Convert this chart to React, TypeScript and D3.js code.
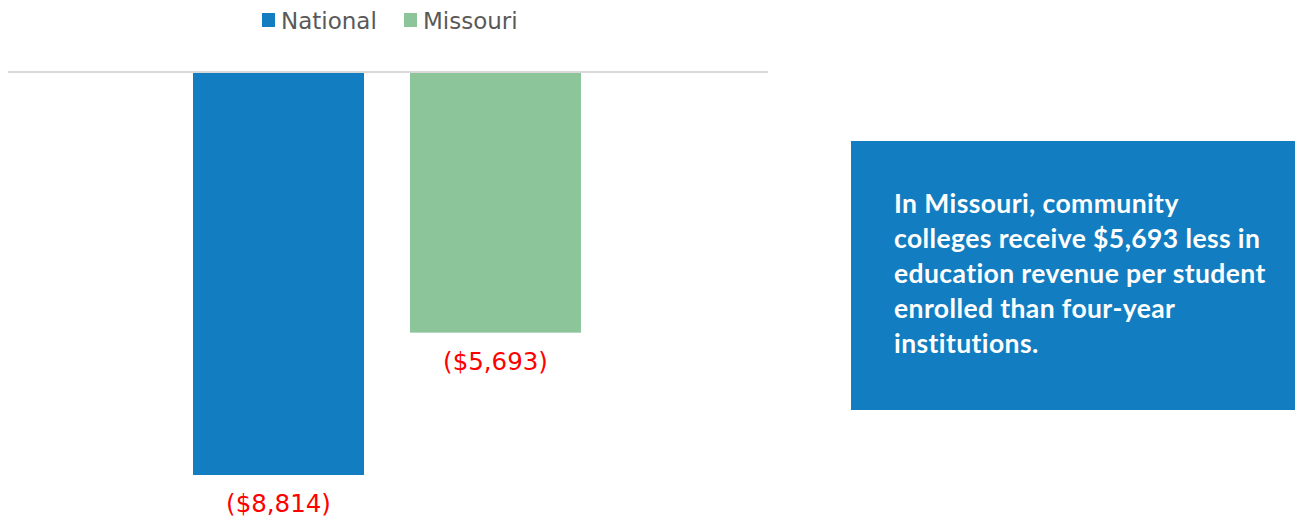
import React from "react";
import * as d3 from "d3";

const series = ["National", "Missouri"];
const values = [-8814, -5693];
const colors = ["#127dc0", "#8dc59a"];
const labels = ["($8,814)", "($5,693)"];
const calloutLines = [
  "In Missouri, community",
  "colleges receive $5,693 less in",
  "education revenue per student",
  "enrolled than four-year",
  "institutions.",
];

export default function App() {
  const W = 1303;
  const H = 520;
  const y = d3.scaleLinear().domain([0, -8814]).range([73, 475]);
  const x = d3.scaleBand<string>().domain(series).range([193, 581]).paddingInner(46 / 217).paddingOuter(0);

  const legendX = [262, 404];
  return (
    <svg width={W} height={H} style={{ position: "absolute", left: 0, top: 0 }}>
      <rect x={0} y={0} width={W} height={H} fill="#ffffff" />
      {series.map((s, i) => (
        <g key={s}>
          <rect x={legendX[i]} y={13} width={13} height={14} fill={colors[i]} />
          <text x={legendX[i] + 19} y={29} fontFamily="'DejaVu Sans', Verdana, sans-serif" fontSize={23} fill="#595959">
            {s}
          </text>
        </g>
      ))}
      {series.map((s, i) => (
        <rect key={s} x={x(s)} y={y(0)} width={x.bandwidth()} height={y(values[i]) - y(0)} fill={colors[i]} />
      ))}
      <line x1={8} x2={768} y1={72} y2={72} stroke="#d9d9d9" strokeWidth={2} />
      {series.map((s, i) => (
        <text
          key={s}
          x={(x(s) as number) + x.bandwidth() / 2}
          y={y(values[i]) + 37}
          textAnchor="middle"
          fontFamily="'DejaVu Sans', Verdana, sans-serif"
          fontSize={24.5}
          fill="#ff0000"
        >
          {labels[i]}
        </text>
      ))}
      <rect x={851} y={141} width={444} height={269} fill="#127dc0" />
      {calloutLines.map((l, i) => (
        <text
          key={i}
          x={894}
          y={213 + i * 35}
          fontFamily="Lato, 'Open Sans', sans-serif"
          fontWeight="bold"
          fontSize={26.5}
          letterSpacing={0.4}
          fill="#ffffff"
        >
          {l}
        </text>
      ))}
    </svg>
  );
}
